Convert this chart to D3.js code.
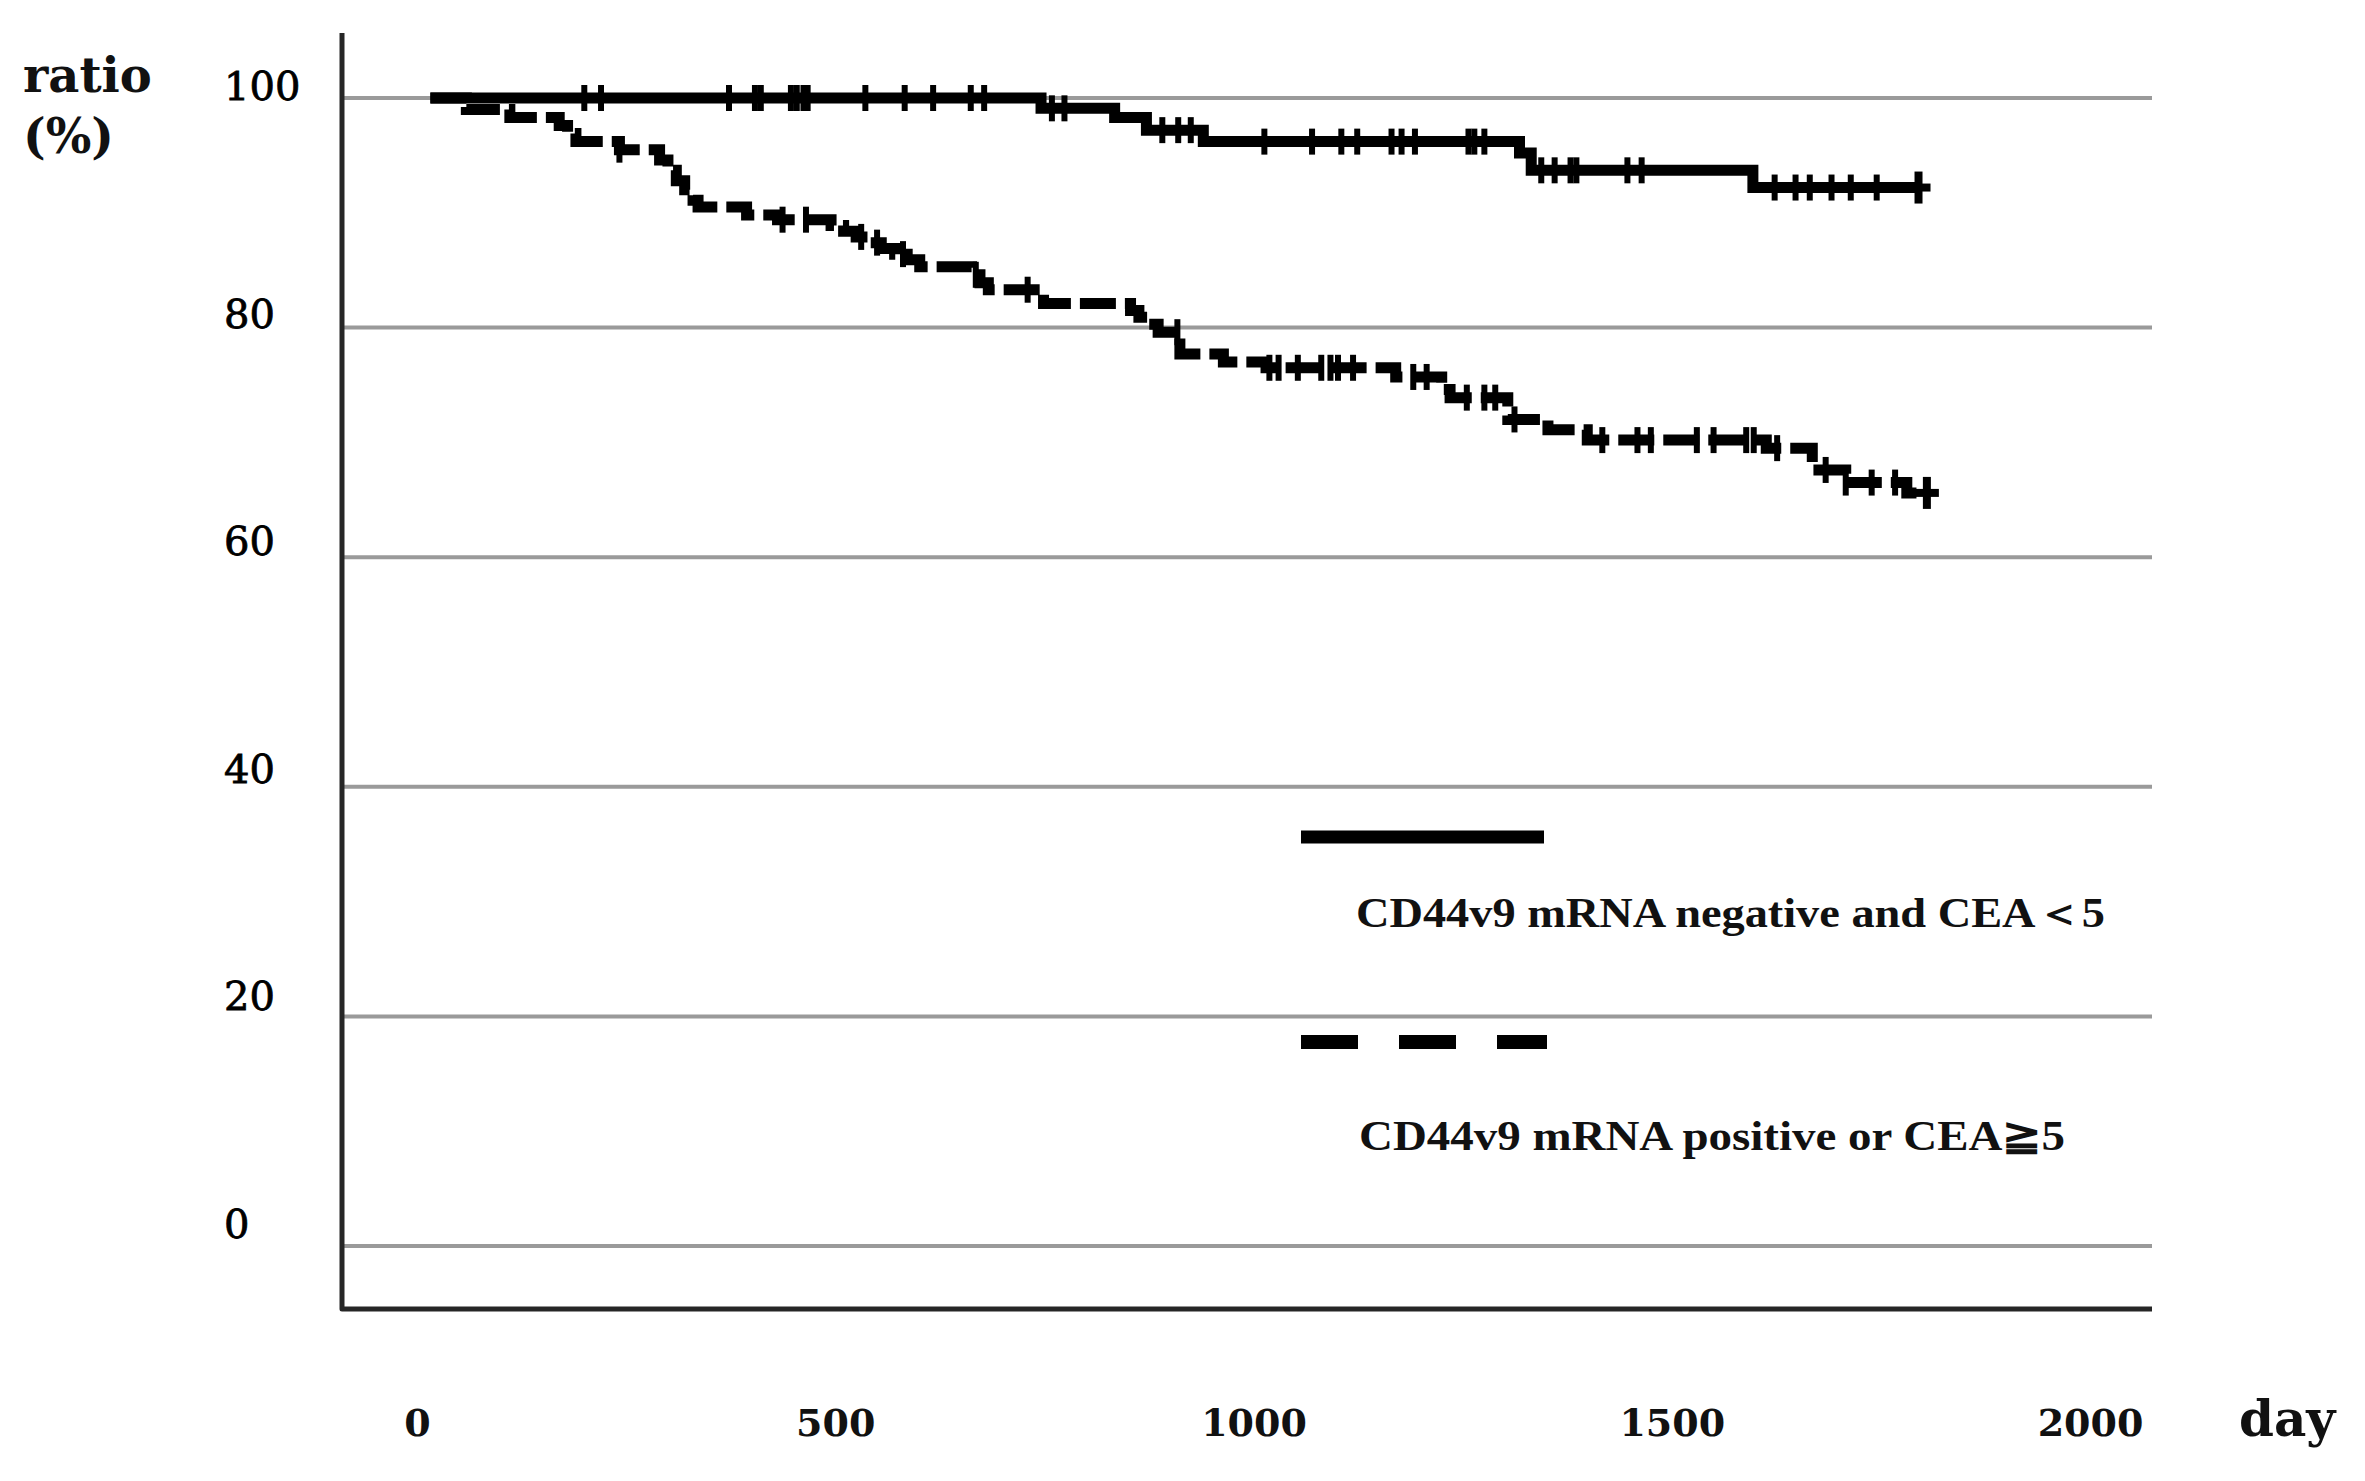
<!DOCTYPE html>
<html>
<head>
<meta charset="utf-8">
<script src="https://cdn.jsdelivr.net/npm/d3@7"></script>
<style>
body { margin: 0; background: #fff; }
</style>
</head>
<body>
<div id="chart"></div>
<script>
// Values
var yTicks = [0, 20, 40, 60, 80, 100];
var xTicks = [0, 500, 1000, 1500, 2000];
var groupNames = ["CD44v9 mRNA negative and CEA＜5", "CD44v9 mRNA positive or CEA≧5"];

// [day, ratio %] where each step starts
var negSteps = [[16, 100], [746, 99.1], [834, 98.3], [872, 97.2], [940, 96.2], [1318, 95.2], [1332, 93.7], [1597, 92.2]];
var negEnd = 1795;
var negCensor = [200, 220, 373, 404, 411, 447, 454, 462, 467, 536, 583, 617, 662, 678, 759, 774, 891, 910, 925,
    1013, 1070, 1105, 1124, 1165, 1177, 1193, 1257, 1264, 1276, 1344, 1360, 1379, 1386, 1447, 1464,
    1623, 1648, 1665, 1691, 1714, 1745];

var posSteps = [[16, 100], [59, 99.0], [111, 98.3], [170, 97.6], [180, 96.9], [190, 96.2], [242, 95.5], [290, 94.6],
    [300, 93.7], [310, 92.8], [320, 92.0], [330, 91.1], [336, 90.5], [394, 89.8], [431, 89.4], [495, 88.9],
    [510, 88.4], [525, 87.9], [540, 87.4], [555, 86.9], [571, 86.4], [586, 85.9], [601, 85.3], [663, 84.6],
    [673, 83.9], [683, 83.3], [749, 82.1], [853, 81.5], [863, 80.9], [873, 80.3], [886, 79.6], [912, 77.7],
    [964, 77.0], [1015, 76.5], [1170, 75.7], [1225, 74.6], [1235, 73.9], [1304, 72.0], [1352, 71.1],
    [1399, 70.2], [1613, 69.5], [1668, 67.6], [1708, 66.5], [1781, 65.6]];
var posEnd = 1805;
var posCensor = [242, 437, 465, 531, 550, 581, 668, 730, 909, 1019, 1030, 1053, 1081, 1092, 1101, 1119, 1191, 1207,
    1255, 1276, 1289, 1312, 1417, 1459, 1475, 1530, 1550, 1589, 1598, 1626, 1684, 1708, 1739, 1767];

var width = 2365, height = 1481;
var plotLeft = 342, plotRight = 2152, plotTop = 33, plotBottom = 1309;

var svg = d3.select("#chart")
    .append("svg")
    .attr("width", width)
    .attr("height", height);

svg.append("rect").attr("width", width).attr("height", height).attr("fill", "#fff");

var x = d3.scaleLinear().domain([0, 2000]).range([417, 2090]);
var y = d3.scaleLinear().domain([0, 100]).range([1246, 98]);
// tick labels sit on a slightly different spacing than the grid
var yLabel = d3.scaleLinear().domain([0, 100]).range([1238, 100]);

// Grid lines
svg.append("g").selectAll("line")
    .data(yTicks)
    .enter().append("line")
    .attr("x1", plotLeft)
    .attr("x2", plotRight)
    .attr("y1", function(d) { return y(d); })
    .attr("y2", function(d) { return y(d); })
    .attr("stroke", "#9a9a9a")
    .attr("stroke-width", 4);

// Axis lines
svg.append("path")
    .attr("d", `M${plotLeft},${plotTop}V${plotBottom}H${plotRight}`)
    .attr("fill", "none")
    .attr("stroke", "#262626")
    .attr("stroke-width", 5)
    .attr("stroke-linejoin", "round");

// Y tick labels
svg.append("g").selectAll("text")
    .data(yTicks)
    .enter().append("text")
    .attr("x", 224)
    .attr("y", function(d) { return yLabel(d); })
    .attr("font-family", "DejaVu Serif")
    .attr("font-size", 40)
    .attr("fill", "#000")
    .attr("stroke", "#000")
    .attr("stroke-width", 0.8)
    .text(function(d) { return d; });

// X tick labels
var xAxis = d3.axisBottom(x).tickValues(xTicks).tickSize(0).tickPadding(0).tickFormat(d3.format("d"));
var gx = svg.append("g")
    .attr("transform", "translate(0,1436)")
    .call(xAxis);
gx.select(".domain").remove();
gx.selectAll("text")
    .attr("y", 0)
    .attr("dy", 0)
    .attr("font-family", "DejaVu Serif")
    .attr("font-weight", "bold")
    .attr("font-size", 38)
    .attr("fill", "#111");

// Axis titles
svg.append("text")
    .attr("x", 2239).attr("y", 1436)
    .attr("font-family", "DejaVu Serif").attr("font-weight", "bold").attr("font-size", 50)
    .attr("fill", "#111")
    .text("day");

var yTitle = svg.append("text")
    .attr("font-family", "DejaVu Serif").attr("font-weight", "bold").attr("font-size", 48)
    .attr("fill", "#111");
yTitle.append("tspan").attr("x", 23).attr("y", 92).text("ratio");
yTitle.append("tspan").attr("x", 23).attr("y", 153).text("(%)");

// Kaplan-Meier curves
var stepLine = d3.line()
    .x(function(d) { return x(d[0]); })
    .y(function(d) { return y(d[1]); })
    .curve(d3.curveStepAfter);

function survAt(steps, day) {
    var i = d3.bisector(function(s) { return s[0]; }).right(steps, day) - 1;
    return steps[Math.max(0, i)][1];
}

function drawCurve(steps, end, censor, dash) {
    var pts = steps.concat([[end, steps[steps.length - 1][1]]]);
    svg.append("path")
        .datum(pts)
        .attr("d", stepLine)
        .attr("fill", "none")
        .attr("stroke", "#000")
        .attr("stroke-width", 11)
        .attr("stroke-dasharray", dash);

    svg.append("g").selectAll("line")
        .data(censor)
        .enter().append("line")
        .attr("x1", function(d) { return x(d); })
        .attr("x2", function(d) { return x(d); })
        .attr("y1", function(d) { return y(survAt(steps, d)) - 13; })
        .attr("y2", function(d) { return y(survAt(steps, d)) + 13; })
        .attr("stroke", "#000")
        .attr("stroke-width", 6);

    // last censored patient, drawn as a heavier cross
    var ex = x(end), ey = y(survAt(steps, end));
    var endMark = svg.append("g").attr("stroke", "#000").attr("stroke-width", 8);
    endMark.append("line").attr("x1", ex).attr("x2", ex).attr("y1", ey - 16).attr("y2", ey + 16);
    endMark.append("line").attr("x1", ex - 12).attr("x2", ex + 12).attr("y1", ey).attr("y2", ey);
}

drawCurve(negSteps, negEnd, negCensor, null);
drawCurve(posSteps, posEnd, posCensor, "36,9");

// Legend
svg.append("line")
    .attr("x1", 1301).attr("x2", 1544).attr("y1", 837).attr("y2", 837)
    .attr("stroke", "#000").attr("stroke-width", 13);
svg.append("line")
    .attr("x1", 1301).attr("x2", 1547).attr("y1", 1042).attr("y2", 1042)
    .attr("stroke", "#000").attr("stroke-width", 14)
    .attr("stroke-dasharray", "57,41");

var legendText = [
    { name: groupNames[0], x: 1356, y: 927, len: 749 },
    { name: groupNames[1], x: 1359, y: 1150, len: 706 }
];
svg.append("g").selectAll("text")
    .data(legendText)
    .enter().append("text")
    .attr("x", function(d) { return d.x; })
    .attr("y", function(d) { return d.y; })
    .attr("textLength", function(d) { return d.len; })
    .attr("lengthAdjust", "spacingAndGlyphs")
    .attr("font-family", "Liberation Serif")
    .attr("font-weight", "bold")
    .attr("font-size", 42)
    .attr("fill", "#111")
    .text(function(d) { return d.name; });
</script>
</body>
</html>
